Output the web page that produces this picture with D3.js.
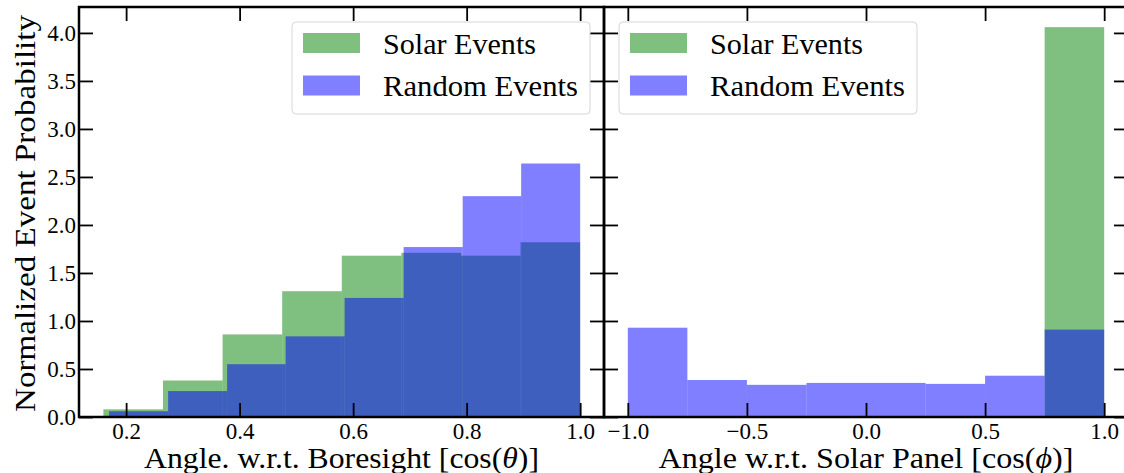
<!DOCTYPE html>
<html>
<head>
<meta charset="utf-8">
<script src="https://cdn.jsdelivr.net/npm/d3@7"></script>
<style>
  body { margin: 0; background: #fff; }
  text { font-family: "Liberation Serif", "Times New Roman", serif; fill: #000; }
</style>
</head>
<body>
<div id="chart"></div>
<script>
// boresight panel: two histograms with their own bin edges
var boresightSolarEdges = [0.160, 0.265, 0.370, 0.475, 0.580, 0.685, 0.790, 0.895, 1.000];
var boresightSolar = [0.08, 0.38, 0.86, 1.31, 1.68, 1.71, 1.68, 1.82];
var boresightRandomEdges = [0.170, 0.274, 0.378, 0.481, 0.585, 0.689, 0.793, 0.896, 1.000];
var boresightRandom = [0.06, 0.27, 0.55, 0.84, 1.24, 1.77, 2.30, 2.64];

// solar panel: same bins for both
var panelEdges = [-1.0, -0.75, -0.5, -0.25, 0.0, 0.25, 0.5, 0.75, 1.0];
var panelSolar = [0, 0, 0, 0, 0, 0, 0, 4.06];
var panelRandom = [0.93, 0.385, 0.335, 0.355, 0.355, 0.345, 0.43, 0.91];

var yTicks = [0, 0.5, 1.0, 1.5, 2.0, 2.5, 3.0, 3.5, 4.0];
var boresightTicks = [0.2, 0.4, 0.6, 0.8, 1.0];
var panelTicks = [-1.0, -0.5, 0.0, 0.5, 1.0];
var legendLabels = ["Solar Events", "Random Events"];

var width = 1124;
var height = 473;
var plotTop = 7;
var plotBottom = 417;
var tickLen = 14;
var green = "#008000";
var blue = "#0000ff";

var svg = d3.select("#chart")
            .append("svg")
            .attr("width", width)
            .attr("height", height);

var y = d3.scaleLinear()
          .domain([0, 4.27])
          .range([plotBottom, plotTop]);

var panels = [
  {
    x: d3.scaleLinear().domain([0.117, 1.042]).range([79, 604]),
    ticks: boresightTicks,
    showY: true,
    hists: [
      {edges: boresightSolarEdges, values: boresightSolar, color: green},
      {edges: boresightRandomEdges, values: boresightRandom, color: blue}
    ],
    label: ["Angle. w.r.t. Boresight [cos(", "θ", ")]"],
    labelLen: 395,
    legendAt: "right"
  },
  {
    x: d3.scaleLinear().domain([-1.1, 1.1]).range([604, 1128]),
    ticks: panelTicks,
    showY: false,
    hists: [
      {edges: panelEdges, values: panelSolar, color: green},
      {edges: panelEdges, values: panelRandom, color: blue}
    ],
    label: ["Angle w.r.t. Solar Panel [cos(", "ϕ", ")]"],
    labelLen: 415,
    legendAt: "left"
  }
];

panels.forEach(function(p) {
  var x0 = p.x.range()[0], x1 = p.x.range()[1];
  var g = svg.append("g");

  // bars, green first then blue on top, both half transparent
  p.hists.forEach(function(h) {
    g.append("g")
     .selectAll("rect")
     .data(h.values.map(function(v, i) { return {v: v, a: h.edges[i], b: h.edges[i + 1]}; }))
     .enter()
     .append("rect")
     .attr("x", function(d) { return p.x(d.a); })
     .attr("width", function(d) { return p.x(d.b) - p.x(d.a); })
     .attr("y", function(d) { return y(d.v); })
     .attr("height", function(d) { return y(0) - y(d.v); })
     .attr("fill", h.color)
     .attr("fill-opacity", 0.5);
  });

  var fmt = d3.format(".1f");

  var bottomAxis = d3.axisBottom(p.x).tickValues(p.ticks).tickFormat(fmt)
                     .tickSizeInner(-tickLen).tickSizeOuter(0).tickPadding(6);
  var topAxis = d3.axisTop(p.x).tickValues(p.ticks).tickFormat("")
                  .tickSizeInner(-tickLen).tickSizeOuter(0);
  var leftAxis = d3.axisLeft(y).tickValues(yTicks).tickFormat(p.showY ? fmt : "")
                   .tickSizeInner(-tickLen).tickSizeOuter(0).tickPadding(3);
  var rightAxis = d3.axisRight(y).tickValues(yTicks).tickFormat("")
                    .tickSizeInner(-tickLen).tickSizeOuter(0);

  var axes = [
    g.append("g").attr("transform", "translate(0," + plotBottom + ")").call(bottomAxis),
    g.append("g").attr("transform", "translate(0," + plotTop + ")").call(topAxis),
    g.append("g").attr("transform", "translate(" + x0 + ",0)").call(leftAxis),
    g.append("g").attr("transform", "translate(" + x1 + ",0)").call(rightAxis)
  ];
  axes.forEach(function(a) {
    a.select(".domain").remove();
    a.selectAll(".tick line").attr("stroke", "#000").attr("stroke-width", 1.8);
    a.selectAll(".tick text").style("font-size", "23px").attr("fill", "#000");
  });

  // frame
  g.append("rect")
   .attr("x", x0).attr("y", plotTop)
   .attr("width", x1 - x0).attr("height", plotBottom - plotTop)
   .attr("fill", "none").attr("stroke", "#000").attr("stroke-width", 2.5);

  // x label
  var xl = g.append("text")
            .attr("x", (x0 + x1) / 2)
            .attr("y", 468)
            .attr("text-anchor", "middle")
            .attr("textLength", p.labelLen)
            .attr("lengthAdjust", "spacingAndGlyphs")
            .style("font-size", "29px");
  xl.append("tspan").text(p.label[0]);
  xl.append("tspan").style("font-style", "italic").text(p.label[1]);
  xl.append("tspan").text(p.label[2]);

  // legend
  var lw = 298, lh = 92;
  var lx = p.legendAt === "right" ? x1 - 14 - lw : x0 + 15;
  var ly = plotTop + 15;
  var leg = g.append("g").attr("transform", "translate(" + lx + "," + ly + ")");
  leg.append("rect")
     .attr("width", lw).attr("height", lh)
     .attr("rx", 4).attr("ry", 4)
     .attr("fill", "#fff").attr("fill-opacity", 0.8)
     .attr("stroke", "#d6d6d6").attr("stroke-width", 1);
  var items = leg.selectAll("g.item")
                 .data(legendLabels)
                 .enter()
                 .append("g")
                 .attr("transform", function(d, i) { return "translate(11," + (11 + i * 42.5) + ")"; });
  items.append("rect")
       .attr("width", 57).attr("height", 20)
       .attr("fill", function(d, i) { return p.hists[i].color; })
       .attr("fill-opacity", 0.5);
  items.append("text")
       .attr("x", 80).attr("y", 20.5)
       .attr("textLength", function(d, i) { return i === 0 ? 153 : 195; })
       .attr("lengthAdjust", "spacingAndGlyphs")
       .style("font-size", "29px")
       .text(function(d) { return d; });
});

// shared y label
svg.append("text")
   .attr("transform", "translate(34.5,213.5) rotate(-90)")
   .attr("text-anchor", "middle")
   .attr("textLength", 397)
   .attr("lengthAdjust", "spacingAndGlyphs")
   .style("font-size", "29px")
   .text("Normalized Event Probability");
</script>
</body>
</html>
